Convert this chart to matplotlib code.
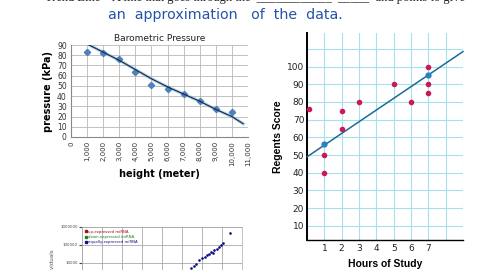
import numpy as np
import matplotlib
matplotlib.use("Agg")
import matplotlib.pyplot as plt
from matplotlib.ticker import FuncFormatter

# barometric pressure chart
height_m = [1000, 2000, 3000, 4000, 5000, 6000, 7000, 8000, 9000, 10000]
pressure_kpa = [83, 82, 76, 64, 51, 47, 42, 35, 27, 24]
trend_h = [1000, 2000, 3000, 4000, 5000, 6000, 7000, 8000, 9000, 10000, 10700]
trend_p = [91, 83, 75, 66, 57, 49, 42, 35, 27, 20, 13]

# regents score chart
hours = [0.1, 1, 1, 2, 2, 3, 5, 6, 7, 7, 7]
score = [76, 50, 40, 75, 65, 80, 90, 80, 100, 90, 85]
fit_x = [0, 9]
fit_y = [49, 108.5]
fit_mark_x = [1, 7]
fit_mark_y = [56.5, 95]

# miRNA chart (partly visible)
mirna_x = [2.8e5, 4e5, 5e5, 7e5, 1e6, 1.4e6, 1.8e6, 2.2e6, 2.8e6, 3.5e6, 4e6, 5.6e6, 7e6, 9e6, 1.1e7, 2.5e7]
mirna_y = [5e3, 7e3, 9e3, 1.4e4, 1.8e4, 2.2e4, 2.8e4, 3.2e4, 4e4, 3.5e4, 5.6e4, 6.3e4, 8e4, 1e5, 1.3e5, 4.7e5]
legend_labels = ["up-expressed miRNA", "down-expressed miRNA", "equally-expressed miRNA"]
legend_colors = ["#a01010", "#208020", "#101080"]

W, H = 480, 270
fig = plt.figure(figsize=(4.8, 2.7), dpi=100)
fig.patch.set_facecolor("white")

def box(l, t, r, b):
    return [l / W, 1 - b / H, (r - l) / W, (b - t) / H]

# header text (cut off at top)
fig.text(45 / W, 1 + 2 / H, "Trend Line \u2013 A line that goes through the  ____________  _____  and points to give",
         fontsize=9, va="center", ha="left", color="#222222", family="Liberation Serif")
fig.text(108 / W, 1 - 15 / H, "an  approximation   of  the  data.", fontsize=10.3,
         color="#2454a8", va="center", ha="left", family="DejaVu Sans")

# --- left chart
ax1 = fig.add_axes(box(71, 45, 248, 137))
ax1.plot(height_m, pressure_kpa, "D", color="#4f81bd", ms=3.2, zorder=3)
ax1.plot(trend_h, trend_p, color="#8ec0ea", lw=2.4, alpha=0.6, zorder=2)
ax1.plot(trend_h, trend_p, color="#1c2f48", lw=0.9, zorder=3)
ax1.set_xlim(0, 11000)
ax1.set_ylim(0, 90)
ax1.set_xticks(np.arange(0, 11001, 1000))
ax1.set_yticks(np.arange(0, 91, 10))
ax1.xaxis.set_major_formatter(FuncFormatter(lambda v, p: f"{int(v):,}"))
ax1.tick_params(axis="x", labelrotation=90, labelsize=5, length=0, pad=3, colors="#333333")
ax1.tick_params(axis="y", labelsize=5.5, length=0, pad=3, colors="#333333")
ax1.grid(True, color="#b8b8b8", lw=0.6)
for s in ["top", "right"]:
    ax1.spines[s].set_visible(False)
ax1.spines["left"].set_color("#888888")
ax1.spines["bottom"].set_color("#888888")
ax1.set_title("Barometric Pressure", fontsize=6.5, pad=3, color="#222222")
ax1.set_ylabel("pressure (kPa)", fontsize=7, fontweight="bold", labelpad=3)
ax1.set_xlabel("height (meter)", fontsize=7, fontweight="bold", labelpad=2)

# --- right chart
ax2 = fig.add_axes(box(307, 33, 463, 240))
ax2.set_xlim(0, 9)
ax2.set_ylim(2, 119)
ax2.set_xticks(np.arange(0, 10, 1), minor=True)
ax2.set_yticks(np.arange(10, 120, 10), minor=True)
ax2.set_xticks([1, 2, 3, 4, 5, 6, 7])
ax2.set_yticks(np.arange(10, 101, 10))
ax2.grid(True, which="both", color="#a6e2ea", lw=0.8)
ax2.tick_params(which="both", length=0, labelsize=6.5, colors="#222222")
ax2.tick_params(axis="x", pad=3)
ax2.tick_params(axis="y", pad=2)
ax2.plot(fit_x, fit_y, color="#1d6a96", lw=1.1, zorder=3, clip_on=False)
ax2.plot(fit_mark_x, fit_mark_y, "o", color="#2a80c0", ms=3.5, zorder=4)
ax2.plot(hours, score, "o", color="#c81a5a", ms=3, zorder=5, clip_on=False)
for s in ["top", "right"]:
    ax2.spines[s].set_visible(False)
ax2.spines["left"].set_linewidth(1.4)
ax2.spines["bottom"].set_linewidth(1.0)
ax2.set_ylabel("Regents Score", fontsize=7.5, fontweight="bold", labelpad=3, family="Liberation Sans")
ax2.set_xlabel("Hours of Study", fontsize=7.5, fontweight="bold", labelpad=4, family="Liberation Sans")

# --- bottom left chart
ax3 = fig.add_axes(box(82, 227, 242, 299))
ax3.set_xscale("log")
ax3.set_yscale("log")
ax3.set_xlim(1, 1e8)
ax3.set_ylim(1e2, 1e6)
ax3.set_xticks([10 ** k for k in range(0, 9)])
ax3.set_xticklabels([])
ax3.set_yticks([1e4, 1e5, 1e6])
ax3.set_yticklabels(["10000", "100000", "1000000"])
ax3.minorticks_off()
ax3.tick_params(labelsize=2.8, length=2, pad=1, colors="#444444")
ax3.grid(True, color="#999999", lw=0.5)
for s in ax3.spines.values():
    s.set_color("#aaaaaa")
    s.set_linewidth(0.5)
ax3.plot(mirna_x, mirna_y, ".", color="#101080", ms=1.8)
for lab, c in zip(legend_labels, legend_colors):
    ax3.plot([], [], "s", color=c, ms=2, label=lab)
leg = ax3.legend(loc="upper left", fontsize=2.8, frameon=False, handlelength=0.6,
                 handletextpad=0.3, labelspacing=0.35, borderaxespad=0.3)
for t, c in zip(leg.get_texts(), legend_colors):
    t.set_color(c)
ax3.set_ylabel("individuals", fontsize=4, color="#555555", labelpad=4)

fig.savefig("out.png", dpi=100)
